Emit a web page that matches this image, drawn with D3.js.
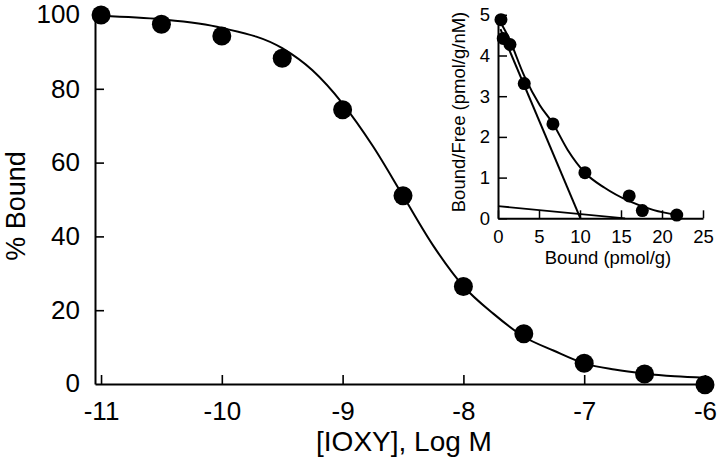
<!DOCTYPE html>
<html>
<head>
<meta charset="utf-8">
<script src="https://cdn.jsdelivr.net/npm/d3@7"></script>
<style>
  html, body { margin: 0; padding: 0; background: #fff; }
  svg { display: block; font-family: "Liberation Sans", Arial, Helvetica, sans-serif; }
</style>
</head>
<body>
<svg id="chart" width="720" height="471"></svg>
<script>
// ---------- Main chart data ----------
const mainLogConc = [-11, -10.5, -10, -9.5, -9, -8.5, -8, -7.5, -7, -6.5, -6];
const mainBound   = [100, 97.5, 94.3, 88.3, 74.3, 51, 26.4, 13.6, 5.6, 2.7, -0.2];
// fitted curve
const fitLogConc = [-11, -10.5, -10, -9.5, -9.25, -9, -8.75, -8.5, -8.25, -8, -7.75, -7.5, -7.25, -7, -6.75, -6.5, -6.25, -6];
const fitBound   = [99.7, 98.8, 96.5, 91, 85, 76, 64.5, 51, 37.5, 26.5, 19, 12.8, 9, 5.6, 3.9, 2.8, 2.1, 1.7];
const mainXTicks = [-11, -10, -9, -8, -7, -6];
const mainYTicks = [0, 20, 40, 60, 80, 100];
const mainXTitle = "[IOXY], Log M";
const mainYTitle = "% Bound";

// ---------- Inset (Scatchard) data ----------
const insetBound = [0.36, 0.64, 1.46, 3.2, 6.7, 10.6, 16.0, 17.6, 21.8];
const insetBF    = [4.88, 4.42, 4.27, 3.31, 2.32, 1.12, 0.55, 0.19, 0.08];
const insetCurveX = [0.4, 1.25, 3.2, 5.1, 6.7, 8.5, 10.6, 13, 16, 19, 21.8];
const insetCurveY = [4.78, 4.46, 3.5, 2.78, 2.33, 1.68, 1.12, 0.75, 0.42, 0.2, 0.08];
const highAffX = [0.3, 10.05];
const highAffY = [4.65, 0];
const lowAffX = [0, 15.5];
const lowAffY = [0.3, 0];
const insetXTicks = [0, 5, 10, 15, 20, 25];
const insetYTicks = [0, 1, 2, 3, 4, 5];
const insetXTitle = "Bound (pmol/g)";
const insetYTitle = "Bound/Free (pmol/g/nM)";

const svg = d3.select("#chart");
const fmt = d => String(d);

// ---------- Main scales ----------
const x = d3.scaleLinear().domain([-11.05, -5.975]).range([95, 708]);
const y = d3.scaleLinear().domain([0, 100]).range([384, 15]);

const gx = svg.append("g").attr("transform", `translate(0,${y(0)})`)
  .call(d3.axisBottom(x).tickValues(mainXTicks).tickFormat(fmt)
    .tickSizeInner(-9).tickSizeOuter(0).tickPadding(18));
const gy = svg.append("g").attr("transform", `translate(${x.range()[0]},0)`)
  .call(d3.axisLeft(y).tickValues(mainYTicks.filter(v => v !== 0 && v !== 100)).tickFormat(fmt)
    .tickSizeInner(-9).tickSizeOuter(0).tickPadding(15));
// labels for 0 and 100 (no tick marks there)
svg.append("g").selectAll("text").data(mainYTicks.filter(v => v === 0 || v === 100)).join("text")
  .attr("x", x.range()[0] - 15).attr("y", d => y(d)).attr("dy", "0.32em")
  .attr("text-anchor", "end").attr("font-size", 26).text(fmt);

[gx, gy].forEach(g => {
  g.selectAll(".domain").attr("stroke", "#000").attr("stroke-width", 2);
  g.selectAll(".tick line").attr("stroke", "#000").attr("stroke-width", 1.6);
  g.selectAll(".tick text").attr("fill", "#000").attr("font-size", 26)
    .attr("font-family", "Liberation Sans, Arial, sans-serif");
});

// main curve
const mainLine = d3.line().x(d => x(d[0])).y(d => y(d[1])).curve(d3.curveMonotoneX);
svg.append("path").datum(fitLogConc.map((v, i) => [v, fitBound[i]]))
  .attr("d", mainLine).attr("fill", "none").attr("stroke", "#000").attr("stroke-width", 2);

// main points
svg.append("g").selectAll("circle").data(mainLogConc.map((v, i) => [v, mainBound[i]])).join("circle")
  .attr("cx", d => x(d[0])).attr("cy", d => y(d[1])).attr("r", 9.5).attr("fill", "#000");

// main titles
svg.append("text").attr("x", 404).attr("y", 451).attr("text-anchor", "middle")
  .attr("font-size", 28).text(mainXTitle);
svg.append("text").attr("transform", "translate(25,206) rotate(-90)").attr("text-anchor", "middle")
  .attr("font-size", 27).text(mainYTitle);

// ---------- Inset ----------
const ix = d3.scaleLinear().domain([0, 25]).range([498, 703]);
const iy = d3.scaleLinear().domain([0, 5]).range([218.3, 14.8]);

const igx = svg.append("g").attr("transform", `translate(0,${iy(0)})`)
  .call(d3.axisBottom(ix).tickValues(insetXTicks).tickFormat(fmt)
    .tickSizeInner(-8).tickSizeOuter(0).tickPadding(12));
const igy = svg.append("g").attr("transform", `translate(${ix(0)},0)`)
  .call(d3.axisLeft(iy).tickValues(insetYTicks).tickFormat(fmt)
    .tickSizeInner(-9).tickSizeOuter(0).tickPadding(8));
[igx, igy].forEach(g => {
  g.selectAll(".domain").attr("stroke", "#000").attr("stroke-width", 2);
  g.selectAll(".tick line").attr("stroke", "#000").attr("stroke-width", 1.5);
  g.selectAll(".tick text").attr("fill", "#000").attr("font-size", 18.5)
    .attr("font-family", "Liberation Sans, Arial, sans-serif");
});

const insetLine = d3.line().x(d => ix(d[0])).y(d => iy(d[1]));
svg.append("path").datum(insetCurveX.map((v, i) => [v, insetCurveY[i]]))
  .attr("d", insetLine.curve(d3.curveMonotoneX)).attr("fill", "none").attr("stroke", "#000").attr("stroke-width", 2);
const straight = d3.line().x(d => ix(d[0])).y(d => iy(d[1]));
svg.append("path").datum(highAffX.map((v, i) => [v, highAffY[i]]))
  .attr("d", straight).attr("fill", "none").attr("stroke", "#000").attr("stroke-width", 2);
svg.append("path").datum(lowAffX.map((v, i) => [v, lowAffY[i]]))
  .attr("d", straight).attr("fill", "none").attr("stroke", "#000").attr("stroke-width", 1.8);

svg.append("g").selectAll("circle").data(insetBound.map((v, i) => [v, insetBF[i]])).join("circle")
  .attr("cx", d => ix(d[0])).attr("cy", d => iy(d[1])).attr("r", 6.5).attr("fill", "#000");

svg.append("text").attr("x", 608).attr("y", 264).attr("text-anchor", "middle")
  .attr("font-size", 18.5).text(insetXTitle);
svg.append("text").attr("transform", "translate(465,112) rotate(-90)").attr("text-anchor", "middle")
  .attr("font-size", 18.5).text(insetYTitle);
</script>
</body>
</html>
